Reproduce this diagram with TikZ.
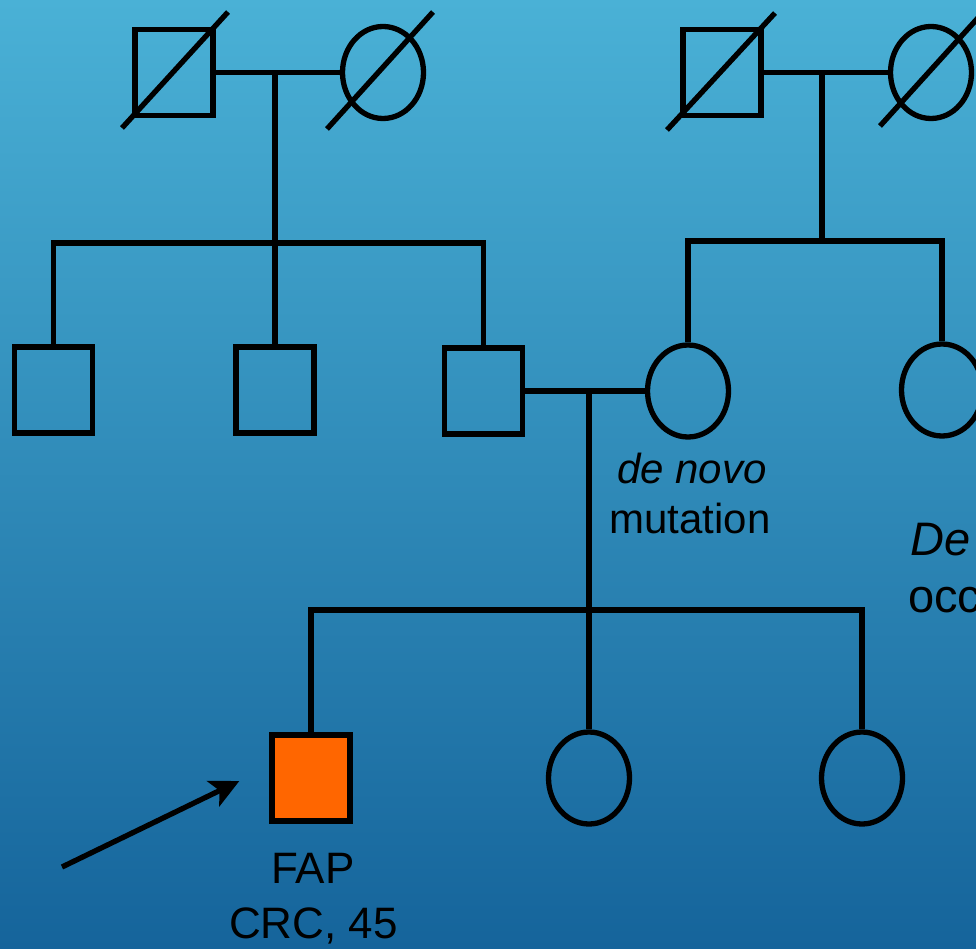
\documentclass[tikz,border=0pt]{standalone}
\usepackage{fontspec}
\setmainfont{Liberation Sans}
\usetikzlibrary{shapes.geometric,arrows.meta,calc}
\definecolor{bgtop}{RGB}{74,177,214}
\definecolor{bgbot}{RGB}{21,100,155}
\definecolor{affected}{RGB}{255,102,0}
\tikzset{
  ped/.style={draw=black, line width=5.3pt, inner sep=0pt},
  male/.style={ped, rectangle, minimum width=78pt, minimum height=86pt},
  female/.style={ped, ellipse, minimum width=81pt, minimum height=92pt},
  link/.style={draw=black, line width=5.3pt},
  lbl/.style={inner sep=0pt, anchor=base, font=\fontsize{42}{48}\selectfont},
  biglbl/.style={inner sep=0pt, anchor=base, font=\fontsize{44}{50}\selectfont},
  edgelbl/.style={inner sep=0pt, anchor=base west, font=\fontsize{47}{52}\selectfont},
}
\begin{document}
\begin{tikzpicture}[x=1pt,y=-1pt]
\useasboundingbox (0,0) rectangle (976,949);
\clip (0,0) rectangle (976,949);
\shade[top color=bgtop, bottom color=bgbot] (0,0) rectangle (976,949);

% generation I
\node[male]   (gp1m) at (174,72.5) {};
\node[female] (gp1f) at (383,72.5) {};
\node[male]   (gp2m) at (722,72.5) {};
\node[female] (gp2f) at (931,72.5) {};
% generation II
\node[male]   (s1) at (53.5,390) {};
\node[male]   (s2) at (275,390) {};
\node[male]   (s3) at (483.5,391) {};
\node[female] (m)  at (688,391) {};
\node[female] (aunt) at (942,390) {};
% generation III
\node[male, fill=affected] (p) at (311,778) {};
\node[female] (d1) at (589,778) {};
\node[female] (d2) at (862,778) {};

\coordinate (c1) at (275,72.5);
\coordinate (sib1) at (275,243);
\coordinate (c3) at (822,72.5);
\coordinate (sib2) at (822,241);
\coordinate (c2) at (589,391);
\coordinate (sib3) at (589,610);

% marriages
\draw[link] (gp1m.east) -- (gp1f.west);
\draw[link] (gp2m.east) -- (gp2f.west);
\draw[link] (s3.east) -- (m.west);
% descents
\draw[link] (c1) -- (sib1);
\draw[link] (s1.north) |- (s3.north |- sib1) -- (s3.north);
\draw[link] (sib1) -- (s2.north);
\draw[link] (c3) -- (sib2);
\draw[link] (m.north) |- (aunt.north |- sib2) -- (aunt.north);
\draw[link] (c2) -- (d1.north);
\draw[link] (p.north) |- (d2.north |- sib3) -- (d2.north);

% deceased slashes
\draw[link] ($(gp1m)+(-52,55.5)$) -- ($(gp1m)+(54,-60.5)$);
\draw[link] ($(gp1f)+(-56,56.5)$) -- ($(gp1f)+(50,-60.5)$);
\draw[link] ($(gp2m)+(-55,57.5)$) -- ($(gp2m)+(53,-59.5)$);
\draw[link] ($(gp2f)+(-51,53.5)$) -- ($(gp2f)+(55,-63.5)$);

% proband arrow
\coordinate (arrowtail) at (62,867);
\draw[line width=5.3pt, -{Stealth[length=29pt,width=28pt,inset=7pt]}] (arrowtail) -- ($(p.west)+(-30,3)$);

% labels
\node[lbl] (dn) at (692,483) {\itshape de novo};
\node[lbl] (mu) at (690,533) {mutation};
\node[biglbl] (fap) at (313,883) {FAP};
\node[biglbl] (crc) at (313.5,938) {CRC, 45};
\node[edgelbl] (de) at (910,555) {\itshape De};
\node[edgelbl] (occ) at (908,612) {occ};
\end{tikzpicture}
\end{document}
